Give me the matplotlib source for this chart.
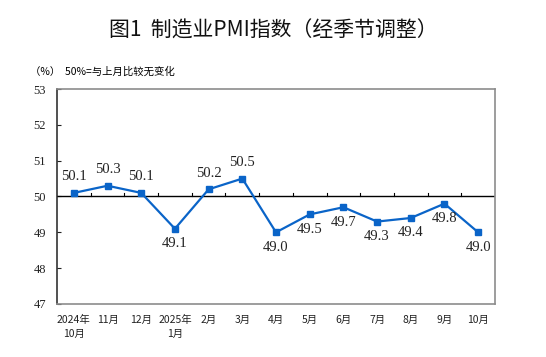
import matplotlib.pyplot as plt

plt.rcParams['font.family'] = ['Liberation Serif', 'Noto Sans CJK SC']

months = ["2024年\n10月", "11月", "12月", "2025年\n1月", "2月", "3月", "4月",
          "5月", "6月", "7月", "8月", "9月", "10月"]
pmi = [50.1, 50.3, 50.1, 49.1, 50.2, 50.5, 49.0, 49.5, 49.7, 49.3, 49.4, 49.8, 49.0]
yticks = [47, 48, 49, 50, 51, 52, 53]

blue = "#0a64c8"
grey = "#8c8c8c"

fig = plt.figure(figsize=(5.46, 3.57), dpi=100)
ax = fig.add_axes([0.1044, 0.1485, 0.8022, 0.6022])

x = list(range(len(pmi)))
ax.plot(x, pmi, color=blue, lw=1.6, marker="s", ms=4.5, zorder=3)

for xi, v in zip(x, pmi):
    if v > 50:
        ax.annotate(f"{v:.1f}", (xi, v), xytext=(0, 7), textcoords="offset points",
                    ha="center", va="bottom", fontsize=10.5, color="#222222",
                    family="Liberation Serif")
    else:
        ax.annotate(f"{v:.1f}", (xi, v), xytext=(0, -6), textcoords="offset points",
                    ha="center", va="top", fontsize=10.5, color="#222222",
                    family="Liberation Serif")

ax.set_xlim(-0.5, len(pmi) - 0.5)
ax.set_ylim(47, 53)
ax.set_yticks(yticks)
ax.set_yticklabels([str(t) for t in yticks], fontsize=9, family="Liberation Serif")
ax.tick_params(axis="y", direction="in", length=3, pad=8, colors="#222222")

# x axis crosses at 50, tick marks at category boundaries
ax.axhline(50, color="black", lw=1.0, zorder=2)
for b in range(len(pmi) - 1):
    ax.plot([b + 0.5, b + 0.5], [50, 50.1], color="black", lw=0.8, zorder=2)
ax.set_xticks(x)
ax.set_xticklabels(months, fontsize=7.5, linespacing=1.5,
                   family=['Noto Sans CJK SC', 'Liberation Serif'])
ax.tick_params(axis="x", length=0, pad=8, colors="#222222")

for s in ["top", "right", "bottom"]:
    ax.spines[s].set_color(grey)
    ax.spines[s].set_linewidth(1.2)
ax.spines["left"].set_color("#222222")
ax.spines["left"].set_linewidth(1.1)

fig.text(0.5, 0.915, "图1  制造业PMI指数（经季节调整）", ha="center", va="center",
         fontsize=15, color="#111111",
         family=['Noto Sans CJK SC', 'DejaVu Sans'])
fig.text(0.055, 0.80, "（%）  50%=与上月比较无变化", ha="left", va="center",
         fontsize=7.5, family=['Noto Sans CJK SC', 'DejaVu Sans'])

fig.savefig("out.png", dpi=100)
